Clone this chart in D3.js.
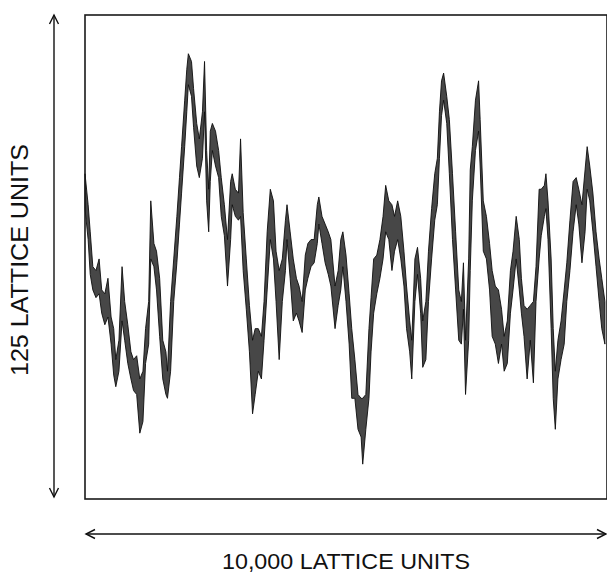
<!DOCTYPE html>
<html>
<head>
<meta charset="utf-8">
<script src="https://cdn.jsdelivr.net/npm/d3@7"></script>
<style>
  html, body { margin: 0; padding: 0; background: #fff; }
  svg { display: block; }
  .frame { fill: none; stroke: #1a1a1a; stroke-width: 1.6; }
  .dim-arrow { fill: none; stroke: #111; stroke-width: 1.4; }
  .label { font-family: "Liberation Sans", Arial, sans-serif; fill: #111; }
  .profile { fill: #474747; stroke: #0d0d0d; stroke-width: 0.9; stroke-linejoin: round; }
</style>
</head>
<body>
<div id="chart"></div>
<script>
// interface profile (lattice units)
const positions = [
  0, 60, 100, 150, 210, 270, 320, 380, 440, 500, 550, 590, 650, 710, 760, 820, 880, 930, 990, 1050,
  1110, 1160, 1220, 1260, 1320, 1370, 1430, 1490, 1550, 1580, 1640, 1700, 1760, 1810, 1850, 1910, 1950, 1980, 2040, 2080,
  2140, 2190, 2250, 2290, 2330, 2370, 2400, 2440, 2500, 2560, 2610, 2670, 2730, 2790, 2820, 2880, 2940, 2980, 3030, 3090,
  3150, 3210, 3260, 3320, 3380, 3430, 3490, 3550, 3610, 3660, 3720, 3780, 3840, 3870, 3930, 3990, 4050, 4100, 4160, 4220,
  4270, 4330, 4390, 4450, 4480, 4540, 4600, 4660, 4710, 4790, 4850, 4900, 4940, 5000, 5060, 5110, 5170, 5230, 5290, 5320,
  5380, 5440, 5480, 5530, 5590, 5650, 5710, 5760, 5820, 5880, 5930, 5990, 6050, 6110, 6160, 6220, 6260, 6320, 6370, 6430,
  6470, 6530, 6580, 6640, 6700, 6750, 6790, 6830, 6870, 6930, 6980, 7040, 7100, 7160, 7210, 7250, 7290, 7350, 7380, 7420,
  7480, 7540, 7570, 7630, 7690, 7750, 7800, 7860, 7920, 7980, 8030, 8090, 8150, 8200, 8260, 8320, 8360, 8410, 8470, 8530,
  8590, 8640, 8700, 8740, 8800, 8830, 8870, 8930, 8970, 9010, 9060, 9120, 9180, 9230, 9290, 9350, 9410, 9460, 9520, 9580,
  9620, 9670, 9730, 9790, 9850, 9900, 9960
]
const upperEdge = [
  84, 76, 69, 60, 59, 62, 54, 53, 57, 47, 44, 36, 41, 60, 51, 45, 38, 36, 37, 31,
  33, 44, 51, 77, 66, 64, 57, 41, 38, 33, 51, 62, 73, 83, 91, 103, 111, 115, 113, 106,
  97, 93, 100, 113, 90, 80, 95, 97, 95, 90, 83, 76, 67, 82, 84, 80, 79, 93, 74, 62,
  50, 41, 44, 44, 42, 51, 69, 80, 77, 64, 59, 62, 72, 76, 69, 62, 57, 55, 51, 63,
  66, 67, 67, 76, 78, 73, 71, 69, 67, 55, 59, 67, 69, 63, 53, 44, 36, 27, 26, 26,
  27, 44, 52, 62, 63, 67, 73, 81, 77, 76, 73, 77, 73, 64, 55, 46, 41, 62, 65, 57,
  46, 51, 64, 75, 84, 88, 100, 108, 110, 104, 98, 84, 69, 54, 51, 61, 41, 62, 85, 91,
  103, 108, 98, 77, 73, 66, 59, 55, 54, 49, 42, 46, 59, 64, 73, 67, 57, 50, 49, 50,
  51, 60, 80, 80, 81, 84, 77, 62, 44, 33, 41, 46, 54, 61, 72, 82, 83, 80, 76, 85,
  91, 86, 79, 69, 62, 57, 51
]
const lowerEdge = [
  75, 67, 58, 54, 52, 53, 48, 45, 47, 40, 32, 29, 33, 46, 41, 35, 31, 28, 27, 17,
  20, 35, 40, 62, 60, 54, 42, 31, 27, 26, 33, 51, 61, 71, 79, 91, 100, 107, 104, 96,
  86, 83, 88, 100, 77, 69, 82, 90, 86, 83, 73, 68, 55, 67, 76, 73, 72, 73, 59, 49,
  38, 22, 27, 33, 31, 41, 54, 67, 62, 51, 36, 51, 59, 67, 57, 46, 48, 46, 43, 54,
  57, 60, 61, 66, 71, 66, 61, 58, 55, 44, 50, 54, 60, 51, 40, 26, 26, 18, 16, 9,
  18, 26, 38, 48, 53, 57, 62, 69, 67, 59, 64, 67, 62, 55, 44, 38, 31, 51, 58, 48,
  34, 36, 51, 62, 72, 76, 88, 99, 103, 97, 84, 67, 54, 41, 40, 49, 27, 41, 59, 77,
  90, 95, 86, 64, 62, 54, 42, 40, 35, 40, 33, 35, 48, 54, 62, 54, 48, 42, 31, 41,
  30, 51, 62, 68, 73, 75, 67, 44, 26, 18, 31, 36, 40, 51, 59, 69, 76, 71, 61, 69,
  80, 77, 69, 60, 51, 44, 40
]
const widthLabel = "10,000 LATTICE UNITS"
const heightLabel = "125 LATTICE UNITS"
const latticeWidth = 10000
const latticeHeight = 125

class LatticeProfile {
  constructor(wrapper) {
    this.wrapper = d3.select(wrapper)
    this.dv = {}
    this.dimensions = {
      width: 607,
      height: 574,
      margin: { top: 15, right: 0, bottom: 75, left: 85 }
    }
    this.dimensions.boundedWidth = 522
    this.dimensions.boundedHeight = this.dimensions.height
      - this.dimensions.margin.top
      - this.dimensions.margin.bottom
  }

  createDataVis() {
    this.setScales()
    this.initialiseDataVis()
    this.drawProfile()
    this.drawDimensions()
  }

  setScales() {
    this.dv.xScale = d3.scaleLinear()
      .domain([0, latticeWidth])
      .range([0, this.dimensions.boundedWidth])
    this.dv.yScale = d3.scaleLinear()
      .domain([0, latticeHeight])
      .range([this.dimensions.boundedHeight, 0])
  }

  initialiseDataVis() {
    this.dv.svg = this.wrapper.append("svg")
      .attr("width", this.dimensions.width)
      .attr("height", this.dimensions.height)

    this.dv.bounds = this.dv.svg.append("g")
      .attr("transform", `translate(${this.dimensions.margin.left},${this.dimensions.margin.top})`)
  }

  drawProfile() {
    const { xScale, yScale } = this.dv
    const rows = positions.map((p, i) => ({ p, hi: upperEdge[i], lo: lowerEdge[i] }))

    const band = d3.area()
      .x(d => xScale(d.p))
      .y0(d => yScale(d.lo))
      .y1(d => yScale(d.hi))

    this.dv.bounds.append("path")
      .datum(rows)
      .attr("class", "profile")
      .attr("d", band)

    // sample box
    this.dv.bounds.append("rect")
      .attr("class", "frame")
      .attr("x", xScale(0))
      .attr("y", yScale(latticeHeight))
      .attr("width", xScale(latticeWidth) - xScale(0))
      .attr("height", yScale(0) - yScale(latticeHeight))
  }

  drawDimensions() {
    const { xScale, yScale } = this.dv
    const left = this.dimensions.margin.left
    const top = this.dimensions.margin.top
    const head = 9, half = 4.5

    // vertical dimension arrow
    const vx = 54
    const vTop = top + yScale(latticeHeight)
    const vBot = top + yScale(0) - 2
    const vert = this.dv.svg.append("g").attr("class", "dim-arrow")
    vert.append("line").attr("x1", vx).attr("x2", vx).attr("y1", vTop).attr("y2", vBot)
    vert.append("path").attr("d", `M${vx - half},${vTop + head}L${vx},${vTop}L${vx + half},${vTop + head}`)
    vert.append("path").attr("d", `M${vx - half},${vBot - head}L${vx},${vBot}L${vx + half},${vBot - head}`)

    // horizontal dimension arrow
    const hy = 534
    const hL = left + xScale(0) + 1
    const hR = left + xScale(latticeWidth) - 1
    const horiz = this.dv.svg.append("g").attr("class", "dim-arrow")
    horiz.append("line").attr("x1", hL).attr("x2", hR).attr("y1", hy).attr("y2", hy)
    horiz.append("path").attr("d", `M${hL + head},${hy - half}L${hL},${hy}L${hL + head},${hy + half}`)
    horiz.append("path").attr("d", `M${hR - head},${hy - half}L${hR},${hy}L${hR - head},${hy + half}`)

    this.dv.svg.append("text")
      .attr("class", "label")
      .attr("x", 346)
      .attr("y", 569)
      .attr("text-anchor", "middle")
      .attr("font-size", 22)
      .attr("textLength", 248)
      .attr("lengthAdjust", "spacingAndGlyphs")
      .text(widthLabel)

    this.dv.svg.append("text")
      .attr("class", "label")
      .attr("transform", "translate(28,260) rotate(-90)")
      .attr("text-anchor", "middle")
      .attr("font-size", 23)
      .attr("textLength", 232)
      .attr("lengthAdjust", "spacingAndGlyphs")
      .text(heightLabel)
  }
}

new LatticeProfile("#chart").createDataVis()
</script>
</body>
</html>
